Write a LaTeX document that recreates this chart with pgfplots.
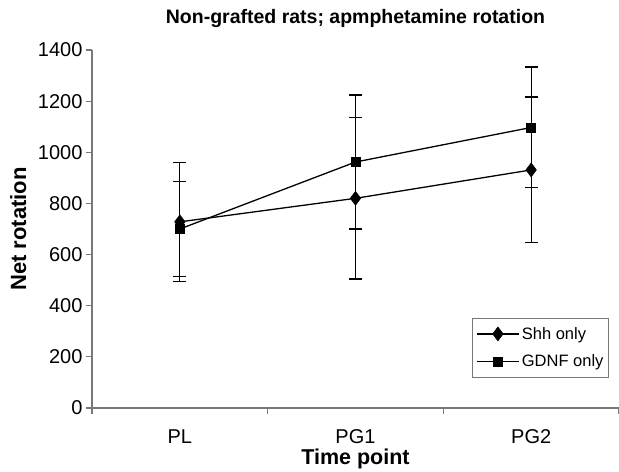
\documentclass[border=0pt]{standalone}
\usepackage{fontspec}
\setmainfont{Liberation Sans}
\usepackage{pgfplots}
\pgfplotsset{compat=1.18}
\usepackage{pgfplotstable}
\definecolor{axgray}{RGB}{120,120,120}

\pgfplotstableread{
x y e
0 728 232
1 820 315
2 931 285
}\shh
\pgfplotstableread{
x y e
0 700 186
1 962 262
2 1097 236
}\gdnf

\begin{document}
\begin{tikzpicture}
\begin{axis}[
  scale only axis,
  width=527pt, height=358pt,
  xmin=-0.5, xmax=2.5, ymin=0, ymax=1400,
  axis x line=bottom, axis y line=left,
  axis line style={-, draw=axgray, line width=1.2pt},
  tick style={draw=axgray, line width=1.2pt},
  tick align=outside,
  xtick={0,1,2}, xticklabels={PL,PG1,PG2},
  major x tick style={draw=none},
  minor xtick={-0.5,0.5,1.5,2.5},
  minor tick length=6pt, major tick length=6pt,
  ytick={0,200,...,1400},
  /pgf/number format/assume math mode=true,
  /pgf/number format/1000 sep={},
  ticklabel style={font=\fontsize{20}{23}\selectfont, text=black},
  xticklabel style={yshift=-12pt},
  title={Non-grafted rats; apmphetamine rotation},
  title style={font=\bfseries\fontsize{19.5}{23}\selectfont, at={(axis description cs:0.5,1.072)}, anchor=center},
  xlabel={Time point},
  ylabel={Net rotation},
  xlabel style={font=\bfseries\fontsize{21.5}{26}\selectfont, at={(axis description cs:0.5,-0.141)}, anchor=center},
  ylabel style={font=\bfseries\fontsize{22}{26}\selectfont, at={(axis description cs:-0.14,0.5)}, anchor=center},
  legend style={at={(0.981,0.085)}, anchor=south east, draw=axgray, line width=1pt,
    font=\fontsize{16.5}{19}\selectfont, row sep=10pt, inner xsep=3pt, inner ysep=7pt},
  legend cell align=left,
  legend image code/.code={
    \draw[mark repeat=2, mark phase=2, #1] plot coordinates {(0cm,0cm)(0.75cm,0cm)(1.5cm,0cm)};
  },
  every axis plot/.append style={line width=1.3pt},
  error bars/y dir=both, error bars/y explicit,
  error bars/error mark options={rotate=90, mark size=6.5pt, line width=1.3pt},
  error bars/error bar style={line width=1.3pt},
  clip=false,
]
\addplot[black, mark=diamond*, mark size=7pt, mark options={solid, line width=0.5pt}]
  table[x=x, y=y, y error=e] {\shh};
\addplot[black, mark=square*, mark size=4.5pt, mark options={solid, line width=0.5pt}]
  table[x=x, y=y, y error=e] {\gdnf};
\legend{Shh only, GDNF only}
\end{axis}
\pgfresetboundingbox
\path[use as bounding box] (current axis.south west) ++(-92pt,-63pt) rectangle ([yshift=50pt]current axis.north east);
\end{tikzpicture}
\end{document}
